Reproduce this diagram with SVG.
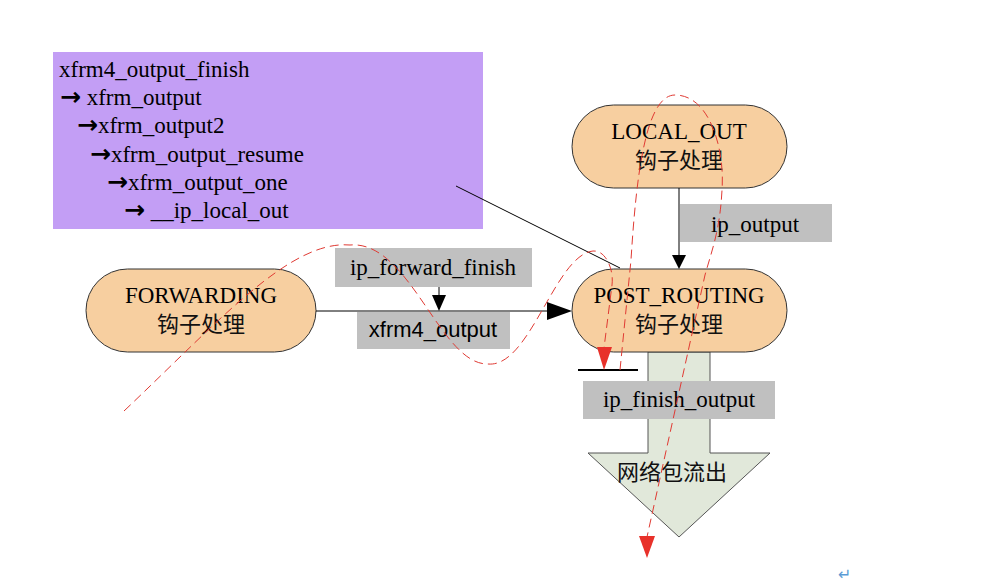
<svg xmlns="http://www.w3.org/2000/svg" width="1006" height="583" viewBox="0 0 1006 583">
<style>
.serif{font-family:"Liberation Serif","Noto Sans CJK SC",serif;font-size:23px;fill:#000}
.arr{font-family:"DejaVu Sans",sans-serif;font-weight:bold;font-size:25px}
.cjk{font-family:"Noto Sans CJK SC","Liberation Serif",sans-serif;font-size:22px;fill:#111}
.sans{font-family:"Liberation Sans",Arial,sans-serif;font-size:22px;fill:#000}
.pill{fill:#f7cfa0;stroke:#333;stroke-width:1}
.lbl{fill:#c0c0c0}
.conn{stroke:#000;stroke-width:1;fill:none}
.dash{stroke:#e03a33;stroke-width:1;fill:none;stroke-dasharray:9 5}
.redhead{fill:#e8312a}
</style>
<rect width="1006" height="583" fill="#fff"/>
<g id="call-chain">
<rect x="53" y="52" width="430" height="177" fill="#c39ef5"/>
<text class="serif" x="59" y="77">xfrm4_output_finish</text>
<text class="serif" x="60" y="105"><tspan class="arr">→</tspan> xfrm_output</text>
<text class="serif" x="77" y="133"><tspan class="arr">→</tspan>xfrm_output2</text>
<text class="serif" x="90" y="162"><tspan class="arr">→</tspan>xfrm_output_resume</text>
<text class="serif" x="107" y="190"><tspan class="arr">→</tspan>xfrm_output_one</text>
<text class="serif" x="124" y="218"><tspan class="arr">→</tspan> __ip_local_out</text>
</g>
<g id="big-arrow">
<path d="M648,352 L710,352 L710,453 L770,453 L679,537 L588,453 L648,453 Z" fill="#e1e8da" stroke="#555" stroke-width="1"/>
<text class="cjk" x="672" y="480" text-anchor="middle">网络包流出</text>
</g>
<g id="local-out">
<rect class="pill" x="572" y="105" width="215" height="83" rx="41.5"/>
<text class="serif" x="679" y="139" text-anchor="middle">LOCAL_OUT</text>
<text class="cjk" x="679" y="168" text-anchor="middle">钩子处理</text>
</g>
<g id="post-routing">
<rect class="pill" x="572" y="269" width="215" height="83" rx="41.5"/>
<text class="serif" x="679" y="303" text-anchor="middle">POST_ROUTING</text>
<text class="cjk" x="679" y="332" text-anchor="middle">钩子处理</text>
</g>
<g id="forwarding">
<rect class="pill" x="86" y="269" width="230" height="83" rx="41.5"/>
<text class="serif" x="201" y="303" text-anchor="middle">FORWARDING</text>
<text class="cjk" x="201" y="332" text-anchor="middle">钩子处理</text>
</g>
<g id="connectors">
<line class="conn" x1="456" y1="186" x2="620" y2="268"/>
<line class="conn" x1="679" y1="188" x2="679" y2="256"/>
<polygon points="672,255 686,255 679,269"/>
<line class="conn" x1="316" y1="311" x2="550" y2="311"/>
<polygon points="547,302 572,311 547,320"/>
<line class="conn" x1="439" y1="287" x2="439" y2="297"/>
<polygon points="432,295 446,295 439,311"/>
<line x1="578" y1="370" x2="638" y2="370" stroke="#000" stroke-width="2"/>
</g>
<g id="label-ip-output">
<rect class="lbl" x="680" y="204" width="152" height="38"/>
<text class="serif" x="755" y="232" text-anchor="middle">ip_output</text>
</g>
<g id="label-ip-forward-finish">
<rect class="lbl" x="335" y="248" width="197" height="39"/>
<text class="serif" x="433" y="275" text-anchor="middle">ip_forward_finish</text>
</g>
<g id="label-xfrm4-output">
<rect class="lbl" x="357" y="312" width="153" height="37"/>
<text class="sans" x="433" y="337" text-anchor="middle">xfrm4_output</text>
</g>
<g id="label-ip-finish-output">
<rect class="lbl" x="583" y="381" width="192" height="38"/>
<text class="serif" x="679" y="407" text-anchor="middle">ip_finish_output</text>
</g>
<g id="flow-paths">
<path class="dash" d="M124,411 C220,320 290,240 350,245 C410,240 440,365 488,364 C530,368 555,255 593,251 C606,250 614,270 612,285 L604,348"/>
<polygon class="redhead" points="597,347 612,347 604,370"/>
<path class="dash" d="M620,370 L631,260 C636,180 645,95 675,95 C710,95 725,150 722,190 C720,230 712,250 705,275 L647,537"/>
<polygon class="redhead" points="639,536 655,536 647,558"/>
</g>
<text x="838" y="580" font-family="DejaVu Sans,sans-serif" font-size="16" fill="#5b9bd5">↵</text>
</svg>
